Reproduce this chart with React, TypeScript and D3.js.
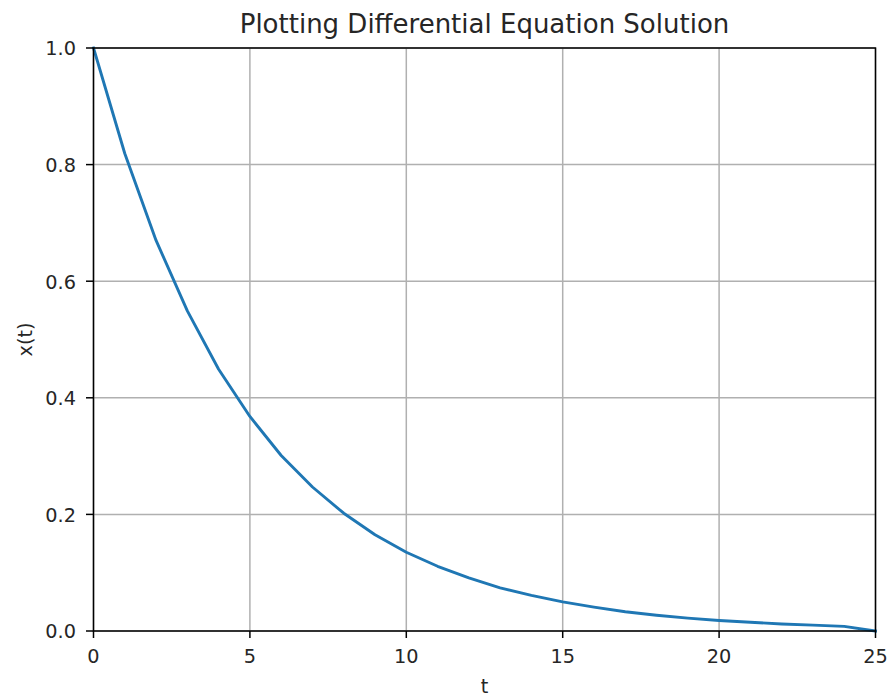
import React from "react";
import * as d3 from "d3";

const tValues = [0, 1, 2, 3, 4, 5, 6, 7, 8, 9, 10, 11, 12, 13, 14, 15, 16, 17, 18, 19, 20, 21, 22, 23, 24, 25];
const xValues = [1.0, 0.819, 0.670, 0.549, 0.449, 0.368, 0.301, 0.247, 0.202, 0.165, 0.135, 0.111, 0.091, 0.074, 0.061, 0.050, 0.041, 0.033, 0.027, 0.022, 0.018, 0.015, 0.012, 0.010, 0.008, 0.0];
const xTicks = [0, 5, 10, 15, 20, 25];
const yTicks = [0.0, 0.2, 0.4, 0.6, 0.8, 1.0];
const titleText = "Plotting Differential Equation Solution";
const xLabel = "t";
const yLabel = "x(t)";

const W = 890;
const H = 697;
const left = 93.5;
const right = 875.5;
const top = 48;
const bottom = 631;
const font = "DejaVu Sans, sans-serif";
const tickFs = 19.3;

export default function App() {
  const x = d3.scaleLinear().domain([0, 25]).range([left, right]);
  const y = d3.scaleLinear().domain([0, 1]).range([bottom, top]);
  const line = d3
    .line<number>()
    .x((_, i) => x(tValues[i]))
    .y((d) => y(d));
  return (
    <svg width={W} height={H} style={{ position: "absolute", left: 0, top: 0, background: "#fff" }}>
      <rect x={0} y={0} width={W} height={H} fill="#fff" />
      {xTicks.map((t) => (
        <line key={"gx" + t} x1={x(t)} x2={x(t)} y1={top} y2={bottom} stroke="#b0b0b0" strokeWidth={1.5} />
      ))}
      {yTicks.map((t) => (
        <line key={"gy" + t} x1={left} x2={right} y1={y(t)} y2={y(t)} stroke="#b0b0b0" strokeWidth={1.5} />
      ))}
      <path d={line(xValues) || ""} fill="none" stroke="#1f77b4" strokeWidth={2.9} strokeLinejoin="round" strokeLinecap="square" />
      <rect x={left} y={top} width={right - left} height={bottom - top} fill="none" stroke="#000" strokeWidth={1.5} />
      {xTicks.map((t) => (
        <g key={"tx" + t}>
          <line x1={x(t)} x2={x(t)} y1={bottom} y2={bottom + 7} stroke="#000" strokeWidth={1.5} />
          <text x={x(t)} y={bottom + 31.5} textAnchor="middle" fontFamily={font} fontSize={tickFs} fill="#262626">
            {t}
          </text>
        </g>
      ))}
      {yTicks.map((t) => (
        <g key={"ty" + t}>
          <line x1={left - 7.5} x2={left} y1={y(t)} y2={y(t)} stroke="#000" strokeWidth={1.5} />
          <text x={left - 17.5} y={y(t)} dy="0.38em" textAnchor="end" fontFamily={font} fontSize={tickFs} fill="#262626">
            {t.toFixed(1)}
          </text>
        </g>
      ))}
      <text x={(left + right) / 2} y={33} textAnchor="middle" fontFamily={font} fontSize={26} fill="#262626">
        {titleText}
      </text>
      <text x={(left + right) / 2} y={693} textAnchor="middle" fontFamily={font} fontSize={tickFs} fill="#262626">
        {xLabel}
      </text>
      <text transform={`translate(31.5, ${(top + bottom) / 2}) rotate(-90)`} textAnchor="middle" fontFamily={font} fontSize={tickFs} fill="#262626">
        {yLabel}
      </text>
    </svg>
  );
}
